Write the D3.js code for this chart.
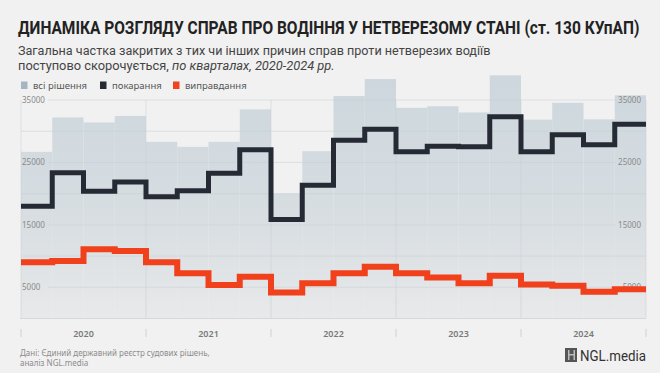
<!DOCTYPE html>
<html lang="uk">
<head>
<meta charset="utf-8">
<style>
  html, body { margin: 0; padding: 0; background: #f1f1f1; overflow: hidden; }
  svg { display: block; }
</style>
</head>
<body>
<svg id="chart" width="660" height="373"></svg>
<script src="https://d3js.org/d3.v7.min.js"></script>
<script>
// Дані по кварталах 2020–2024
const years = ["2020", "2021", "2022", "2023", "2024"];
const allDecisions = [26700, 32200, 31400, 32450, 28300, 27500, 28300, 33500, 20000, 26800,
                      35650, 38350, 33750, 34000, 33000, 38950, 31850, 34550, 31900, 35750];
const punished = [18000, 23350, 20400, 21850, 19500, 20450, 23250, 27050, 15850, 21350,
                  28550, 30300, 26700, 27600, 27500, 32300, 26700, 29450, 27850, 31100];
const acquitted = [9000, 9200, 11100, 10800, 9000, 7250, 5350, 6700, 4150, 5650,
                   7250, 8300, 7250, 6550, 5650, 6850, 5450, 5250, 4300, 4700];
const gridValues = [5000, 10000, 15000, 20000, 25000, 30000, 35000];
const labelValues = [5000, 15000, 25000, 35000];
const legendItems = [
  { label: "всі рішення", color: "#a3b6c2" },
  { label: "покарання", color: "#262a35" },
  { label: "виправдання", color: "#f0441f" }
];

const svg = d3.select("#chart");
const font = "'Noto Sans', 'Open Sans', sans-serif";

const x = d3.scaleLinear().domain([0, 20]).range([21, 646]);
const y = d3.scaleLinear().domain([0, 35000]).range([318.5, 100]);

// стискає текст по горизонталі до потрібної ширини, висоту шрифту не чіпає
function squeeze(sel, x0, y0, width) {
  const w = sel.node().getComputedTextLength();
  sel.attr("x", 0).attr("y", 0)
    .attr("transform", `translate(${x0},${y0}) scale(${(width / w).toFixed(4)},1)`);
}

// Заголовок
const title = svg.append("text")
  .attr("font-family", "Roboto, 'Noto Sans', sans-serif")
  .attr("font-weight", 700).attr("font-size", 18)
  .attr("fill", "#222")
  .text("ДИНАМІКА РОЗГЛЯДУ СПРАВ ПРО ВОДІННЯ У НЕТВЕРЕЗОМУ СТАНІ (ст. 130 КУпАП)");
squeeze(title, 18, 34, 622);

const sub1 = svg.append("text")
  .attr("font-family", "Roboto, 'Noto Sans', sans-serif").attr("font-size", 13.5).attr("fill", "#444")
  .text("Загальна частка закритих з тих чи інших причин справ проти нетверезих водіїв");
squeeze(sub1, 18, 55, 473);

const sub2 = svg.append("text")
  .attr("font-family", "Roboto, 'Noto Sans', sans-serif").attr("font-size", 13.5).attr("fill", "#444");
sub2.append("tspan").text("поступово скорочується, ");
sub2.append("tspan").attr("font-style", "italic").text("по кварталах, 2020-2024 рр.");
squeeze(sub2, 18, 70, 317);

// Легенда
const legendX = [21, 100, 173];
const lg = svg.append("g");
legendItems.forEach((d, i) => {
  lg.append("rect")
    .attr("x", legendX[i]).attr("y", 81.5)
    .attr("width", 6.5).attr("height", 7.5)
    .attr("fill", d.color);
  lg.append("text")
    .attr("x", legendX[i] + 12).attr("y", 88.5)
    .attr("font-family", font).attr("font-size", 9.5).attr("fill", "#555")
    .text(d.label);
});

// Градієнт для стовпчиків
const defs = svg.append("defs");
const grad = defs.append("linearGradient")
  .attr("id", "barGrad")
  .attr("gradientUnits", "userSpaceOnUse")
  .attr("x1", 0).attr("x2", 0)
  .attr("y1", y(38000)).attr("y2", y(0));
grad.append("stop").attr("offset", "0%").attr("stop-color", "#cdd7dd");
grad.append("stop").attr("offset", "60%").attr("stop-color", "#d8dee2");
grad.append("stop").attr("offset", "100%").attr("stop-color", "#e8e9ea");

// Стовпчики (всі рішення)
svg.append("g")
  .selectAll("rect")
  .data(allDecisions)
  .join("rect")
  .attr("x", (d, i) => x(i))
  .attr("width", (d, i) => x(i + 1) - x(i))
  .attr("y", d => y(d))
  .attr("height", d => y(0) - y(d))
  .attr("fill", "url(#barGrad)");

// Сітка
const grid = svg.append("g");
gridValues.forEach(v => {
  const labelled = labelValues.includes(v);
  grid.append("line")
    .attr("x1", labelled ? 48 : x(0)).attr("x2", labelled ? 616 : x(20))
    .attr("y1", y(v)).attr("y2", y(v))
    .attr("stroke", "#c8cfd3").attr("stroke-opacity", 0.55).attr("stroke-width", 1);
});
d3.range(0, 6).forEach(k => {
  grid.append("line")
    .attr("x1", x(k * 4)).attr("x2", x(k * 4))
    .attr("y1", y(35000)).attr("y2", y(0))
    .attr("stroke", "#c8cfd3").attr("stroke-opacity", 0.55);
});
grid.append("line")
  .attr("x1", x(0) - 1).attr("x2", x(20))
  .attr("y1", y(0)).attr("y2", y(0))
  .attr("stroke", "#d6d8da");

// Підписи осі Y
const yl = svg.append("g")
  .attr("font-family", font).attr("font-size", 8).attr("fill", "#8a8a8a");
labelValues.forEach(v => {
  yl.append("text").attr("x", 22).attr("y", y(v) + 3).text(v);
  yl.append("text").attr("x", 641).attr("y", y(v) + 3)
    .attr("text-anchor", "end").text(v);
});

// Лінії-сходинки
const stepPoints = arr => arr.map((v, i) => [i, v]).concat([[arr.length, arr[arr.length - 1]]]);
const line = d3.line()
  .x(d => x(d[0]))
  .y(d => y(d[1]))
  .curve(d3.curveStepAfter);

svg.append("path")
  .attr("d", line(stepPoints(acquitted)))
  .attr("fill", "none")
  .attr("stroke", "#f0401c")
  .attr("stroke-width", 6);

svg.append("path")
  .attr("d", line(stepPoints(punished)))
  .attr("fill", "none")
  .attr("stroke", "#262a35")
  .attr("stroke-width", 5);

// Вісь X
const xa = svg.append("g");
d3.range(0, 6).forEach(k => {
  xa.append("line")
    .attr("x1", x(k * 4)).attr("x2", x(k * 4))
    .attr("y1", 329).attr("y2", 337)
    .attr("stroke", "#d0d0d0");
});
years.forEach((yr, k) => {
  xa.append("text")
    .attr("x", x(k * 4 + 2)).attr("y", 337)
    .attr("text-anchor", "middle")
    .attr("font-family", font).attr("font-size", 9).attr("font-weight", 600)
    .attr("fill", "#7a7a7a")
    .text(yr);
});

// Джерело
const src = svg.append("g")
  .attr("font-family", font).attr("font-size", 8).attr("fill", "#8c8c8c");
src.append("text").attr("x", 20).attr("y", 356).text("Дані: Єдиний державний реєстр судових рішень,");
src.append("text").attr("x", 20).attr("y", 365.5).text("аналіз NGL.media");

// Логотип
const logo = svg.append("g");
logo.append("rect").attr("x", 565).attr("y", 348).attr("width", 12).attr("height", 14).attr("fill", "#555");
[568, 573.5].forEach(px => {
  logo.append("rect").attr("x", px).attr("y", 350).attr("width", 1.5).attr("height", 10).attr("fill", "#bbb");
});
logo.append("rect").attr("x", 569).attr("y", 354).attr("width", 5).attr("height", 1.5).attr("fill", "#bbb");
const logoText = logo.append("text")
  .attr("font-family", "Roboto, 'Liberation Sans', sans-serif")
  .attr("font-size", 15.5).attr("fill", "#333")
  .text("NGL.media");
squeeze(logoText, 580, 361, 66);
</script>
</body>
</html>
